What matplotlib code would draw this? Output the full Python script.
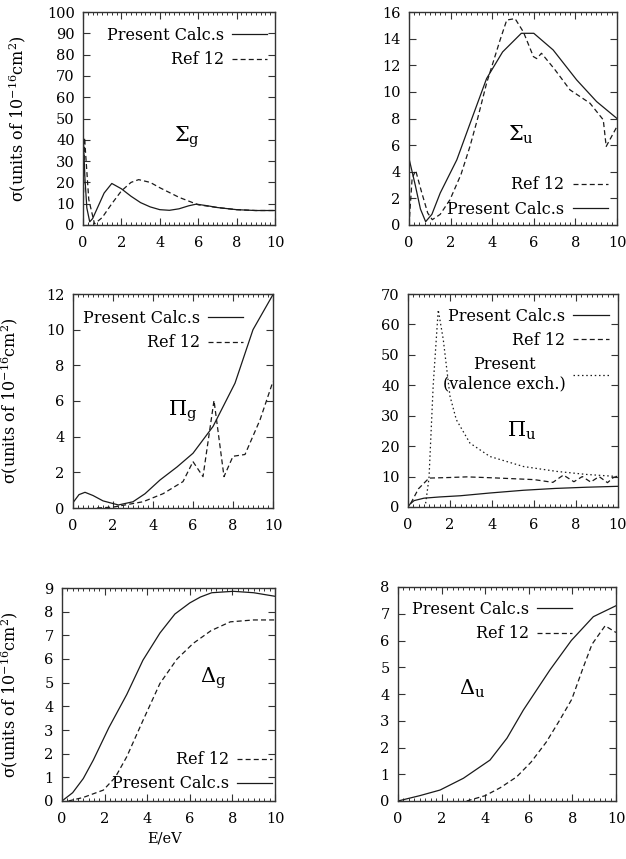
import matplotlib
matplotlib.use("Agg")
import matplotlib.pyplot as plt
from matplotlib.ticker import MultipleLocator

plt.rcParams['font.family'] = ['DejaVu Serif']
plt.rcParams['mathtext.fontset'] = 'dejavuserif'

# ---------------- data ----------------
sg_pres_x = [0.02, 0.1, 0.2, 0.35, 0.5, 0.8, 1.1, 1.5, 2.0, 2.5, 3.0, 3.5, 4.0, 4.5, 5.0, 5.5, 5.9, 6.5, 7.0, 8.0, 9.0, 10.0]
sg_pres_y = [40, 22, 8, 1.5, 3, 9, 15, 19.5, 17, 13.5, 10.5, 8.5, 7.2, 6.9, 7.6, 9.0, 9.8, 9.0, 8.2, 7.2, 6.8, 6.8]
sg_ref_x = [0.0, 0.08, 0.3, 0.6, 1.0, 1.5, 2.0, 2.5, 2.9, 3.5, 4.0, 5.0, 6.0, 7.0, 8.0, 9.0, 10.0]
sg_ref_y = [0, 41, 12, 0.5, 3.5, 10, 16, 20, 21.3, 20, 17.5, 13, 9.5, 8.2, 7.2, 6.8, 6.8]

su_pres_x = [0.0, 0.3, 0.55, 0.8, 1.1, 1.5, 2.3, 3.0, 3.73, 4.5, 5.4, 6.0, 6.93, 8.06, 9.02, 10.0]
su_pres_y = [5.0, 3.0, 1.2, 0.25, 0.8, 2.4, 4.9, 7.9, 11.0, 13.0, 14.4, 14.4, 13.15, 10.9, 9.27, 8.0]
su_ref_x = [0.0, 0.15, 0.32, 0.6, 0.9, 1.12, 1.5, 1.97, 2.5, 2.93, 3.3, 3.73, 4.38, 4.7, 5.1, 5.5, 5.98, 6.14, 6.37, 7.0, 7.74, 8.7, 9.34, 9.48, 10.0]
su_ref_y = [0.0, 3.5, 4.1, 2.5, 0.9, 0.4, 0.8, 1.9, 3.8, 5.9, 8.0, 10.65, 13.9, 15.4, 15.5, 14.5, 12.65, 12.5, 12.9, 11.7, 10.15, 9.15, 7.9, 5.9, 7.4]

pg_pres_x = [0.0, 0.3, 0.6, 1.0, 1.5, 2.27, 3.0, 3.6, 4.35, 5.2, 6.0, 7.0, 8.1, 9.0, 10.0]
pg_pres_y = [0.3, 0.75, 0.88, 0.7, 0.4, 0.17, 0.35, 0.8, 1.57, 2.3, 3.07, 4.57, 7.0, 10.0, 11.97]
pg_ref_x = [1.2, 2.0, 3.5, 4.5, 5.5, 6.0, 6.5, 7.05, 7.55, 8.0, 8.6, 9.35, 10.0]
pg_ref_y = [0.0, 0.05, 0.35, 0.8, 1.48, 2.6, 1.76, 6.03, 1.76, 2.9, 3.0, 4.94, 7.1]

pu_pres_x = [0.0, 0.1, 0.29, 0.76, 1.5, 2.5, 3.9, 5.5, 7.0, 8.5, 10.0]
pu_pres_y = [0.0, 1.0, 2.1, 2.9, 3.3, 3.7, 4.6, 5.5, 6.1, 6.5, 6.8]
pu_ref_x = [0.13, 0.5, 1.0, 1.5, 2.0, 2.8, 4.0, 5.0, 6.0, 6.9, 7.4, 7.9, 8.3, 8.7, 9.1, 9.5, 9.8, 10.0]
pu_ref_y = [1.2, 6.0, 9.5, 9.6, 9.7, 9.9, 9.6, 9.3, 9.0, 8.1, 10.5, 8.3, 10.0, 8.2, 10.0, 8.0, 9.8, 10.0]
pu_val_x = [0.84, 1.0, 1.2, 1.44, 1.68, 2.0, 2.3, 2.95, 3.9, 5.5, 7.08, 8.5, 10.0]
pu_val_y = [1.2, 9.5, 40.0, 64.8, 55.0, 36.4, 28.7, 21.0, 16.6, 13.3, 11.7, 10.7, 10.0]

dg_pres_x = [0.0, 0.5, 1.0, 1.47, 2.2, 3.04, 3.8, 4.6, 5.3, 6.0, 6.5, 7.03, 8.04, 9.0, 10.0]
dg_pres_y = [0.0, 0.35, 0.95, 1.73, 3.1, 4.5, 5.95, 7.1, 7.9, 8.37, 8.62, 8.8, 8.86, 8.8, 8.65]
dg_ref_x = [0.3, 1.0, 1.94, 2.5, 3.04, 3.8, 4.6, 5.4, 6.16, 7.0, 7.9, 9.0, 10.0]
dg_ref_y = [0.0, 0.15, 0.46, 1.0, 1.87, 3.4, 4.97, 6.0, 6.66, 7.2, 7.57, 7.65, 7.65]

du_pres_x = [0.0, 1.0, 1.93, 3.0, 4.22, 5.0, 5.75, 6.4, 6.97, 7.95, 8.96, 10.0]
du_pres_y = [0.0, 0.2, 0.41, 0.85, 1.53, 2.35, 3.4, 4.2, 4.9, 6.0, 6.89, 7.3]
du_ref_x = [3.15, 4.0, 4.7, 5.44, 6.1, 6.8, 7.4, 7.97, 8.5, 8.9, 9.5, 10.0]
du_ref_y = [0.0, 0.2, 0.5, 0.9, 1.45, 2.2, 3.0, 3.8, 5.0, 5.86, 6.55, 6.3]

labels_present = "Present Calc.s"
labels_ref = "Ref 12"
labels_val = "Present\n(valence exch.)"

# ---------------- figure ----------------
W, H = 626, 859
fig = plt.figure(figsize=(W / 100, H / 100), dpi=100)

def axbox(l, t, r, b):
    return fig.add_axes([l / W, 1 - b / H, (r - l) / W, (b - t) / H])

LC = '#1a1a1a'
LW = 0.9
DASH = (0, (4, 2.5))
DOT = (0, (1.2, 2.2))
FS = 11.5
TFS = 10.5

def style(ax, ymax, ystep):
    ax.set_xlim(0, 10)
    ax.set_ylim(0, ymax)
    ax.xaxis.set_major_locator(MultipleLocator(2))
    ax.xaxis.set_minor_locator(MultipleLocator(0.25))
    ax.yaxis.set_major_locator(MultipleLocator(ystep))
    ax.tick_params(which='both', direction='in', top=True, right=True, labelsize=TFS, color='#333333')
    ax.tick_params(axis='x', pad=8)
    ax.tick_params(axis='y', pad=6)
    ax.tick_params(which='major', length=5, width=0.8)
    ax.tick_params(which='minor', length=2.5, width=0.7)
    for s in ax.spines.values():
        s.set_linewidth(1.0)
        s.set_color('#333333')

def ylab(ax, xpix, axleft, axwidth):
    ax.set_ylabel(r"$\mathregular{\sigma}$(units of 10$^{\mathregular{-16}}$cm$^{\mathregular{2}}$)", fontsize=FS)
    ax.yaxis.set_label_coords((xpix - axleft) / axwidth, 0.5)

def leg(ax, handles, labels, loc, anchor):
    lg = ax.legend(handles, labels, loc=loc, bbox_to_anchor=anchor, frameon=False,
                   markerfirst=False, fontsize=FS, handlelength=2.2, handletextpad=0.5,
                   labelspacing=0.45, borderaxespad=0, borderpad=0)
    return lg

GFS = 15

# Sigma_g
ax = axbox(83, 12, 275, 225)
style(ax, 100, 10)
h1, = ax.plot(sg_pres_x, sg_pres_y, color=LC, lw=LW)
h2, = ax.plot(sg_ref_x, sg_ref_y, color=LC, lw=LW, linestyle=DASH)
leg(ax, [h1, h2], [labels_present, labels_ref], 'upper right', (0.96, 0.93))
ax.text(5.4, 41, r"$\Sigma_{\mathregular{g}}$", fontsize=GFS, ha='center', va='center')
ylab(ax, 28, 83, 192)

# Sigma_u
ax = axbox(409, 12, 617, 225)
style(ax, 16, 2)
h1, = ax.plot(su_pres_x, su_pres_y, color=LC, lw=LW)
h2, = ax.plot(su_ref_x, su_ref_y, color=LC, lw=LW, linestyle=DASH)
leg(ax, [h2, h1], [labels_ref, labels_present], 'lower right', (0.955, 0.035))
ax.text(5.4, 6.75, r"$\Sigma_{\mathregular{u}}$", fontsize=GFS, ha='center', va='center')

# Pi_g
ax = axbox(73, 294, 273, 508)
style(ax, 12, 2)
h1, = ax.plot(pg_pres_x, pg_pres_y, color=LC, lw=LW)
h2, = ax.plot(pg_ref_x, pg_ref_y, color=LC, lw=LW, linestyle=DASH)
leg(ax, [h1, h2], [labels_present, labels_ref], 'upper right', (0.85, 0.925))
ax.text(5.5, 5.4, r"$\Pi_{\mathregular{g}}$", fontsize=GFS, ha='center', va='center')
ylab(ax, 20, 73, 200)

# Pi_u
ax = axbox(408, 294, 618, 507)
style(ax, 70, 10)
h1, = ax.plot(pu_pres_x, pu_pres_y, color=LC, lw=LW)
h2, = ax.plot(pu_ref_x, pu_ref_y, color=LC, lw=LW, linestyle=DASH)
h3, = ax.plot(pu_val_x, pu_val_y, color=LC, lw=LW, linestyle=DOT)
lg = leg(ax, [h1, h2, h3], [labels_present, labels_ref, labels_val], 'upper right', (0.955, 0.935))
lg.get_texts()[2].set_multialignment('center')
ax.text(5.4, 25, r"$\Pi_{\mathregular{u}}$", fontsize=GFS, ha='center', va='center')

# Delta_g
ax = axbox(62, 588, 275, 801)
style(ax, 9, 1)
h1, = ax.plot(dg_pres_x, dg_pres_y, color=LC, lw=LW)
h2, = ax.plot(dg_ref_x, dg_ref_y, color=LC, lw=LW, linestyle=DASH)
leg(ax, [h2, h1], [labels_ref, labels_present], 'lower right', (0.985, 0.04))
ax.text(7.1, 5.2, r"$\Delta_{\mathregular{g}}$", fontsize=GFS, ha='center', va='center')
ylab(ax, 20, 62, 213)
ax.set_xlabel("E/eV", fontsize=TFS)
ax.xaxis.set_label_coords(0.48, -0.145)

# Delta_u
ax = axbox(398, 587, 616, 801)
style(ax, 8, 1)
h1, = ax.plot(du_pres_x, du_pres_y, color=LC, lw=LW)
h2, = ax.plot(du_ref_x, du_ref_y, color=LC, lw=LW, linestyle=DASH)
leg(ax, [h1, h2], [labels_present, labels_ref], 'upper right', (0.80, 0.935))
ax.text(3.4, 4.2, r"$\Delta_{\mathregular{u}}$", fontsize=GFS, ha='center', va='center')

fig.savefig("out.png", dpi=100)
